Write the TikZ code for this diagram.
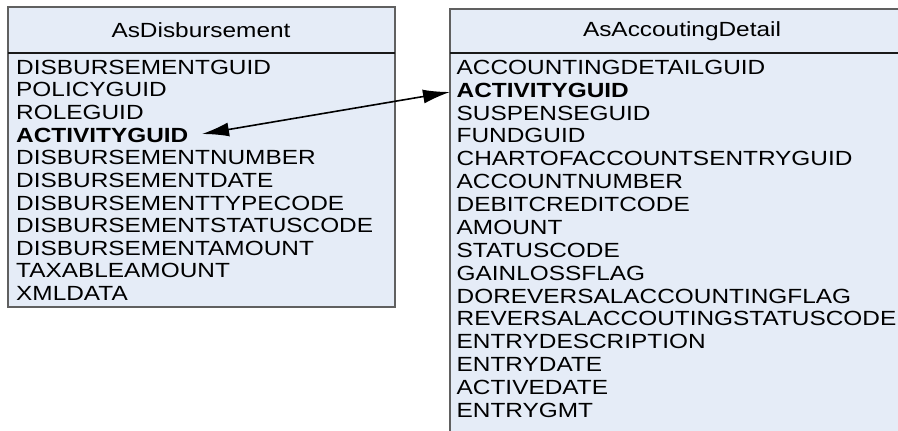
\documentclass[tikz,border=0pt]{standalone}
\usepackage{graphicx}
\usepackage{fontspec}
\setmainfont{Liberation Sans}
\usetikzlibrary{arrows.meta}
\definecolor{boxfill}{HTML}{E5ECF7}
\definecolor{boxline}{HTML}{606060}
\newcommand\hsc[1]{\scalebox{1.19}[1]{#1}}
\tikzset{
  tbl/.style={draw=boxline, line width=1.2pt, fill=boxfill},
  sep/.style={draw=black!90, line width=1.3pt},
  rowtext/.style={inner sep=0pt, anchor=base west, font=\fontsize{20.5pt}{22pt}\selectfont},
  headtext/.style={inner sep=0pt, anchor=center, font=\fontsize{20.5pt}{22pt}\selectfont},
  link/.style={line width=1.6pt, {Latex[length=27pt,width=14pt]}-{Latex[length=27pt,width=14pt]}}
}
\begin{document}
\begin{tikzpicture}[x=1pt,y=-1pt]
\useasboundingbox (0,0) rectangle (898,431);
\begin{scope}
\clip (0,0) rectangle (898,431);
% left table
\path[tbl] (8,7) rectangle (395,307);
\draw[sep] (8,53) -- (395,53);
% right table
\path[tbl] (450,9) rectangle (960,460);
\draw[sep] (450,53) -- (960,53);
\end{scope}
\node[headtext] (hL) at (201,30) {\hsc{AsDisbursement}};
\node[headtext] (hR) at (682,31) {\hsc{AsAccoutingDetail}};
\foreach \t [count=\i] in {DISBURSEMENTGUID,POLICYGUID,ROLEGUID,{\bfseries ACTIVITYGUID},DISBURSEMENTNUMBER,DISBURSEMENTDATE,DISBURSEMENTTYPECODE,DISBURSEMENTSTATUSCODE,DISBURSEMENTAMOUNT,TAXABLEAMOUNT,XMLDATA}
  \node[rowtext] (l\i) at (16,{74.3+22.63*(\i-1)}) {\hsc{\t}};
\foreach \t [count=\i] in {ACCOUNTINGDETAILGUID,{\bfseries ACTIVITYGUID},SUSPENSEGUID,FUNDGUID,CHARTOFACCOUNTSENTRYGUID,ACCOUNTNUMBER,DEBITCREDITCODE,AMOUNT,STATUSCODE,GAINLOSSFLAG,DOREVERSALACCOUNTINGFLAG,REVERSALACCOUTINGSTATUSCODE,ENTRYDESCRIPTION,ENTRYDATE,ACTIVEDATE,ENTRYGMT}
  \node[rowtext] (r\i) at (456.5,{74.3+22.87*(\i-1)}) {\hsc{\t}};
\coordinate (la) at (202,134);
\coordinate (ra) at (450,92);
\draw[link] (la) -- (ra);
\end{tikzpicture}
\end{document}
